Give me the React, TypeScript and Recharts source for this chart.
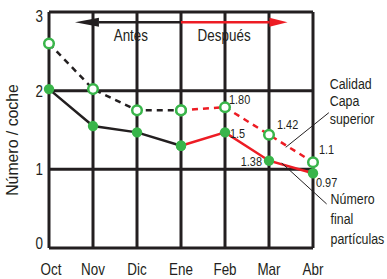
import {
  ComposedChart,
  Line,
  XAxis,
  YAxis,
  CartesianGrid,
  ReferenceLine,
  ReferenceDot,
  Label,
} from "recharts";

const months = ["Oct", "Nov", "Dic", "Ene", "Feb", "Mar", "Abr"];
// Calidad capa superior (dashed, hollow markers)
const upper = [2.6, 2.02, 1.75, 1.75, 1.79, 1.44, 1.09];
// Número final partículas (solid, filled markers)
const lower = [2.02, 1.55, 1.47, 1.3, 1.47, 1.11, 0.95];
const yTicks = [0, 1, 2, 3];
const changeIndex = 3; // Ene: antes -> después

const valueLabels = [
  { i: 4, y: upper[4], text: "1.80" },
  { i: 4, y: lower[4], text: "1.5" },
  { i: 5, y: upper[5], text: "1.42" },
  { i: 5, y: lower[5], text: "1.38" },
  { i: 6, y: upper[6], text: "1.1" },
  { i: 6, y: lower[6], text: "0.97" },
];
const labelOffsets = [
  { dx: 4, dy: -3, anchor: "start" },
  { dx: 5, dy: 6, anchor: "start" },
  { dx: 8, dy: -6, anchor: "start" },
  { dx: -7, dy: 5, anchor: "end" },
  { dx: 6, dy: -8, anchor: "start" },
  { dx: 3, dy: 14, anchor: "start" },
];

const data = months.map((m, i) => ({
  x: i,
  month: m,
  upperBefore: i <= changeIndex ? upper[i] : null,
  upperAfter: i >= changeIndex ? upper[i] : null,
  lowerBefore: i <= changeIndex ? lower[i] : null,
  lowerAfter: i >= changeIndex ? lower[i] : null,
}));

const FONT = "'Liberation Sans', Arial, sans-serif";
const SX = 0.84; // narrow the face to look like a condensed Helvetica
const INK = "#231f20";
const RED = "#ed1c24";
const GREEN = "#39b54a";

// condensed-looking text
const NT = ({ x, y, size, anchor = "start", rotate = 0, lines, lead = 1.2, sx = SX }: any) => (
  <text
    transform={`translate(${x},${y}) rotate(${rotate}) scale(${sx},1)`}
    textAnchor={anchor}
    fontFamily={FONT}
    fontSize={size}
    fill={INK}
  >
    {lines.map((l: string, k: number) => (
      <tspan key={k} x={0} dy={k === 0 ? 0 : size * lead}>
        {l}
      </tspan>
    ))}
  </text>
);

const HollowDot = (p: any) =>
  p.cy == null ? null : (
    <circle cx={p.cx} cy={p.cy} r={4.8} fill="#fff" stroke={GREEN} strokeWidth={2.5} />
  );
const FilledDot = (p: any) =>
  p.cy == null ? null : <circle cx={p.cx} cy={p.cy} r={5.2} fill={GREEN} />;

const arrowShape = (dir: "left" | "right", color: string, head: number) => (p: any) => {
  const { x1, y1, x2 } = p;
  const tip = dir === "left" ? Math.min(x1, x2) : Math.max(x1, x2);
  const tail = dir === "left" ? Math.max(x1, x2) : Math.min(x1, x2);
  const back = dir === "left" ? tip + head : tip - head;
  return (
    <g>
      <line x1={tail} y1={y1} x2={back} y2={y1} stroke={color} strokeWidth={2.5} />
      <path d={`M${tip},${y1} L${back},${y1 - 4.5} L${back},${y1 + 4.5} Z`} fill={color} />
    </g>
  );
};

const XTick = (p: any) => (
  <NT x={p.x + (p.payload.value === 0 ? 2 : 0)} y={p.y + 21} size={16} anchor="middle" lines={[months[p.payload.value]]} />
);
const YTick = (p: any) => {
  const v = p.payload.value;
  const shift = v === 3 ? 4 : v === 0 ? -5 : 0;
  return <NT x={p.x} y={p.y + 6 + shift} size={16} anchor="end" lines={[String(v)]} />;
};

export default function App() {
  return (
    <div style={{ position: "absolute", left: 0, top: 0, background: "#fff" }}>
      <ComposedChart
        width={387}
        height={279}
        data={data}
        margin={{ top: 12, right: 74, bottom: 11, left: 9 }}
      >
        <CartesianGrid
          stroke={INK}
          strokeWidth={3}
          verticalValues={months.map((_, i) => i)}
          horizontalValues={yTicks}
        />
        <XAxis
          dataKey="x"
          type="number"
          domain={[0, 6]}
          ticks={months.map((_, i) => i)}
          axisLine={false}
          tickLine={false}
          height={20}
          tickMargin={0}
          interval={0}
          tick={<XTick />}
        />
        <YAxis
          type="number"
          domain={[0, 3]}
          ticks={yTicks}
          axisLine={false}
          tickLine={false}
          width={40}
          tickMargin={0}
          tick={<YTick />}
        >
          <Label
            content={(lp: any) => (
              <NT
                x={18}
                y={lp.viewBox.y + lp.viewBox.height / 2 + 10}
                size={16.5}
                sx={0.96}
                anchor="middle"
                rotate={-90}
                lines={["Número / coche"]}
              />
            )}
          />
        </YAxis>

        <ReferenceLine
          segment={[{ x: 0.59, y: 2.87 }, { x: changeIndex, y: 2.87 }]}
          shape={arrowShape("left", INK, 24)}
        />
        <ReferenceLine
          segment={[{ x: changeIndex, y: 2.87 }, { x: 5.42, y: 2.87 }]}
          shape={arrowShape("right", RED, 18)}
        />
        <ReferenceDot
          x={1.86}
          y={2.63}
          r={0}
          shape={(p: any) => <NT x={p.cx} y={p.cy} size={16} anchor="middle" lines={["Antes"]} />}
        />
        <ReferenceDot
          x={3.98}
          y={2.63}
          r={0}
          shape={(p: any) => <NT x={p.cx} y={p.cy} size={16} anchor="middle" lines={["Después"]} />}
        />

        <Line dataKey="upperBefore" stroke={INK} strokeWidth={2.5} strokeDasharray="6 5" dot={<HollowDot />} isAnimationActive={false} connectNulls={false} />
        <Line dataKey="upperAfter" stroke={RED} strokeWidth={2.5} strokeDasharray="6 5" dot={<HollowDot />} isAnimationActive={false} connectNulls={false} />
        <Line dataKey="lowerBefore" stroke={INK} strokeWidth={2.5} dot={<FilledDot />} isAnimationActive={false} connectNulls={false} />
        <Line dataKey="lowerAfter" stroke={RED} strokeWidth={2.5} dot={<FilledDot />} isAnimationActive={false} connectNulls={false} />

        {valueLabels.map((v, k) => (
          <ReferenceDot
            key={k}
            x={v.i}
            y={v.y}
            r={0}
            ifOverflow="visible"
            shape={(p: any) => (
              <NT
                x={p.cx + labelOffsets[k].dx}
                y={p.cy + labelOffsets[k].dy}
                size={13}
                anchor={labelOffsets[k].anchor}
                lines={[v.text]}
              />
            )}
          />
        ))}

        <ReferenceLine
          segment={[{ x: 6.36, y: 1.72 }, { x: 5.38, y: 1.28 }]}
          stroke={INK}
          strokeWidth={1}
          ifOverflow="visible"
        />
        <ReferenceLine
          segment={[{ x: 6.31, y: 0.56 }, { x: 5.29, y: 1.08 }]}
          stroke={INK}
          strokeWidth={1}
          ifOverflow="visible"
        />
        <ReferenceDot
          x={6.38}
          y={2.02}
          r={0}
          ifOverflow="visible"
          shape={(p: any) => (
            <NT x={p.cx} y={p.cy} size={15.5} sx={0.8} lead={1.12} lines={["Calidad", "Capa", "superior"]} />
          )}
        />
        <ReferenceDot
          x={6.4}
          y={0.56}
          r={0}
          ifOverflow="visible"
          shape={(p: any) => (
            <NT x={p.cx} y={p.cy} size={15.5} sx={0.8} lead={1.28} lines={["Número", "final", "partículas"]} />
          )}
        />
      </ComposedChart>
    </div>
  );
}
